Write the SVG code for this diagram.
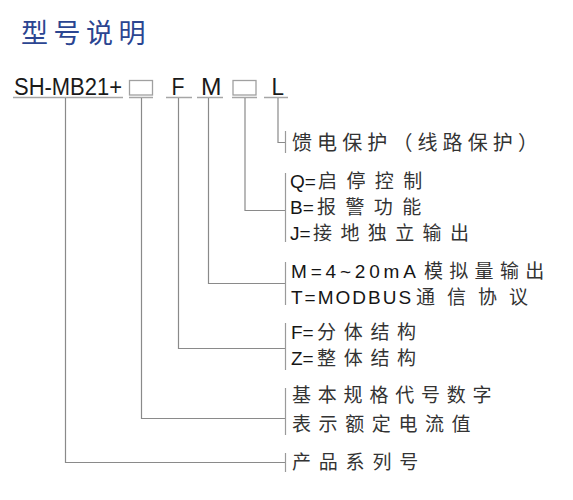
<svg xmlns="http://www.w3.org/2000/svg" width="573" height="500" viewBox="0 0 573 500">
<style>
.title{font-family:"Noto Sans CJK SC","Noto Sans",sans-serif;font-size:27px;fill:#2b4591;letter-spacing:5.5px}
.hdr{font-family:"Liberation Sans","Noto Sans",sans-serif;font-size:23px;fill:#1a1a1a}
.t{font-family:"Liberation Sans","Noto Sans CJK SC",sans-serif;font-size:19px;fill:#151515}
.c{font-family:"Noto Sans CJK SC",sans-serif;fill:#333333}
.ul{stroke:#a6a6a6;stroke-width:1.6;fill:none}
.ln{stroke:#8a8a8a;stroke-width:1.2;fill:none}
.br{stroke:#9a9a9a;stroke-width:1.2;fill:none}
.box{stroke:#a0a0a0;stroke-width:1.3;fill:none}
</style>
<rect width="573" height="500" fill="#ffffff"/>
<text class="title" x="21" y="43">型号说明</text>
<g id="header">
<text class="hdr" x="14" y="95" textLength="108" lengthAdjust="spacingAndGlyphs">SH-MB21+</text>
<rect class="box" x="129.5" y="80.5" width="23" height="14.5"/>
<text class="hdr" x="171.5" y="95" textLength="13" lengthAdjust="spacingAndGlyphs">F</text>
<text class="hdr" x="201" y="95" textLength="20.5" lengthAdjust="spacingAndGlyphs">M</text>
<rect class="box" x="233" y="80.5" width="23" height="14.5"/>
<text class="hdr" x="271.5" y="95" textLength="12.5" lengthAdjust="spacingAndGlyphs">L</text>
</g>
<g id="connectors">
<path class="ul" d="M13 97.5H123M129 97.5H153M166 97.5H192M197 97.5H223M232 97.5H257M264 97.5H288"/>
<path class="ln" d="M65.5 98V462.5H285.5"/>
<path class="ln" d="M141.5 98V418.5H285.5"/>
<path class="ln" d="M178.5 98V348.5H285.5"/>
<path class="ln" d="M208.5 98V283.5H285.5"/>
<path class="ln" d="M245 98V210.5H285.5"/>
<path class="ln" d="M278 98V142.5H285.5"/>
</g>
<g id="n-feeder">
<path class="br" d="M285.5 131V153"/>
<text class="t c" x="292" y="150" style="font-size:20px;letter-spacing:5.1px">馈电保护（线路保护）</text>
</g>
<g id="n-control">
<path class="br" d="M285.5 173V242"/>
<text class="t" x="290" y="187.5">Q=<tspan class="c" x="318" style="letter-spacing:9.4px">启停控制</tspan></text>
<text class="t" x="290" y="213.5">B=<tspan class="c" x="317" style="letter-spacing:9.4px">报警功能</tspan></text>
<text class="t" x="290" y="239.5">J=<tspan class="c" x="313" style="letter-spacing:8.4px">接地独立输出</tspan></text>
</g>
<g id="n-output">
<path class="br" d="M285.5 262V305"/>
<text class="t" x="291" y="277.5" style="letter-spacing:3.8px">M=4~20mA<tspan class="c" x="424" style="letter-spacing:6.3px">模拟量输出</tspan></text>
<text class="t" x="291" y="303.5" style="letter-spacing:2px">T=MODBUS<tspan class="c" x="416" style="letter-spacing:12px">通信协议</tspan></text>
</g>
<g id="n-structure">
<path class="br" d="M285.5 323V370"/>
<text class="t" x="291" y="338.5">F=<tspan class="c" x="317" style="letter-spacing:7.7px">分体结构</tspan></text>
<text class="t" x="291" y="364.5">Z=<tspan class="c" x="317" style="letter-spacing:7.7px">整体结构</tspan></text>
</g>
<g id="n-spec">
<path class="br" d="M285.5 388V435"/>
<text class="t c" x="292" y="402" style="letter-spacing:6.8px">基本规格代号数字</text>
<text class="t c" x="292" y="431" style="letter-spacing:7.6px">表示额定电流值</text>
</g>
<g id="n-series">
<path class="br" d="M285.5 453V472"/>
<text class="t c" x="292" y="469" style="letter-spacing:7.8px">产品系列号</text>
</g>
</svg>
